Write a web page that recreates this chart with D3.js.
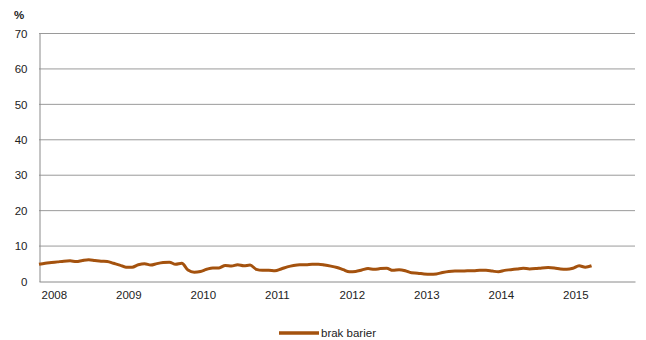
<!DOCTYPE html>
<html>
<head>
<meta charset="utf-8">
<script src="https://cdn.jsdelivr.net/npm/d3@7"></script>
<style>
  body { margin: 0; background: #fff; }
  text { font-family: "Liberation Sans", Arial, sans-serif; }
</style>
</head>
<body>
<div id="vis"></div>
<script>
// monthly series, Jan 2008 onward
var values = [4.7, 5.0, 5.2, 5.4, 5.6, 5.7, 5.5, 5.8, 6.0, 5.8, 5.6, 5.5,
              5.0, 4.5, 3.9, 3.9, 4.6, 4.9, 4.5, 4.9, 5.2, 5.3, 4.7, 5.0,
              3.1, 2.5, 2.7, 3.3, 3.7, 3.7, 4.4, 4.2, 4.6, 4.3, 4.5, 3.3,
              3.0, 3.0, 2.9, 3.4, 4.0, 4.4, 4.6, 4.6, 4.7, 4.7, 4.5, 4.2,
              3.8, 3.2, 2.6, 2.7, 3.1, 3.5, 3.3, 3.5, 3.6, 3.0, 3.2, 2.9,
              2.3, 2.2, 2.0, 1.9, 2.0, 2.4, 2.7, 2.8, 2.8, 2.9, 2.9, 3.0,
              3.0, 2.8, 2.6, 3.0, 3.2, 3.4, 3.6, 3.4, 3.5, 3.7, 3.8, 3.7,
              3.4, 3.3, 3.6, 4.3, 3.9, 4.3]
var years = ["2008", "2009", "2010", "2011", "2012", "2013", "2014", "2015"]
var yTicks = [0, 10, 20, 30, 40, 50, 60, 70]
var seriesName = "brak barier"

function drawChart(){
    var width = 646, height = 340
    var left = 39, right = 635, top = 33, bottom = 281
    var lineColor = "#a4520e"

    var svg = d3.select("#vis").append("svg")
        .attr("width", width).attr("height", height)

    var x = d3.scaleLinear().domain([0, years.length * 12]).range([left, right])
    var y = d3.scaleLinear().domain([0, 70]).range([bottom, top])

//grid
    svg.append("g").selectAll("line").data(yTicks.filter(function(d){ return d > 0 }))
        .enter().append("line")
        .attr("x1", left).attr("x2", right)
        .attr("y1", function(d){ return y(d) + 0.5 })
        .attr("y2", function(d){ return y(d) + 0.5 })
        .attr("stroke", "#9a9a9a").attr("stroke-width", 1)

//axes
    var yAxis = d3.axisLeft(y).tickValues(yTicks).tickSize(0).tickPadding(12)
    var yg = svg.append("g").attr("transform", "translate(" + (left + 0.5) + ",0.5)").call(yAxis)
    yg.select(".domain").attr("stroke", "#8a8a8a")
    yg.selectAll("text").attr("font-size", 11.5).attr("fill", "#222")

    var xAxis = d3.axisBottom(x).tickValues(d3.range(years.length).map(function(i){ return i * 12 }))
        .tickSize(0).tickPadding(9)
        .tickFormat(function(d){ return years[d / 12] })
    var xg = svg.append("g").attr("transform", "translate(0," + (bottom + 0.5) + ")").call(xAxis)
    xg.select(".domain").attr("stroke", "#8a8a8a")
    xg.selectAll("text").attr("font-size", 11.5).attr("fill", "#222")
        .attr("text-anchor", "start").attr("dx", 2)

    svg.append("text").attr("x", 14).attr("y", 19)
        .attr("font-size", 11.5).attr("font-weight", "bold").attr("fill", "#222")
        .text("%")

//series
    var line = d3.line()
        .x(function(d, i){ return x(i) })
        .y(function(d){ return y(d) })
        .curve(d3.curveMonotoneX)
    svg.append("path").datum(values)
        .attr("d", line)
        .attr("fill", "none")
        .attr("stroke", lineColor)
        .attr("stroke-width", 3)
        .attr("stroke-linejoin", "round")

//legend
    var lg = svg.append("g").attr("transform", "translate(279,333)")
    lg.append("line").attr("x1", 0).attr("x2", 40).attr("y1", 0).attr("y2", 0)
        .attr("stroke", lineColor).attr("stroke-width", 3.5)
    lg.append("text").attr("x", 42).attr("y", 4)
        .attr("font-size", 11.5).attr("fill", "#222")
        .text(seriesName)
}

drawChart()
</script>
</body>
</html>
